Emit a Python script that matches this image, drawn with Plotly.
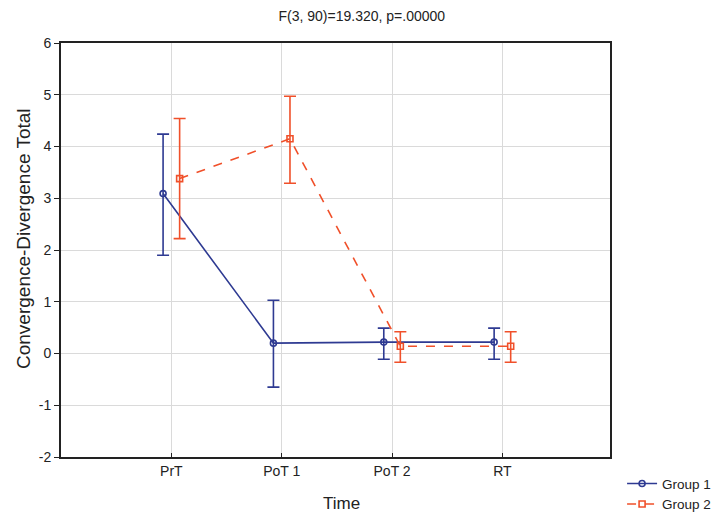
import plotly.graph_objects as go

categories = ["PrT", "PoT 1", "PoT 2", "RT"]
cat_pos = [0, 1, 2, 3]

y_ticks = [-2, -1, 0, 1, 2, 3, 4, 5, 6]
y_tick_labels = ["-2", "-1", "0", "1", "2", "3", "4", "5", "6"]

g1_mean = [3.09, 0.20, 0.22, 0.22]
g1_upper = [4.24, 1.03, 0.49, 0.49]
g1_lower = [1.90, -0.65, -0.11, -0.11]

g2_mean = [3.38, 4.15, 0.14, 0.14]
g2_upper = [4.54, 4.97, 0.42, 0.42]
g2_lower = [2.22, 3.29, -0.17, -0.17]

blue = "#2E3A92"
orange = "#F0502A"
font = "Liberation Sans, Arial, sans-serif"

fig = go.Figure()
fig.add_trace(go.Scatter(
    x=[p - 0.075 for p in cat_pos], y=g1_mean, name="Group 1",
    mode="lines+markers",
    line=dict(color=blue, width=1.6),
    marker=dict(symbol="circle-open", size=6, color=blue, line=dict(width=1.6)),
    error_y=dict(type="data", symmetric=False,
                 array=[u - m for u, m in zip(g1_upper, g1_mean)],
                 arrayminus=[m - l for m, l in zip(g1_mean, g1_lower)],
                 color=blue, thickness=1.6, width=6),
))
fig.add_trace(go.Scatter(
    x=[p + 0.075 for p in cat_pos], y=g2_mean, name="Group 2",
    mode="lines+markers",
    line=dict(color=orange, width=1.6, dash="dash"),
    marker=dict(symbol="square-open", size=6, color=orange, line=dict(width=1.6)),
    error_y=dict(type="data", symmetric=False,
                 array=[u - m for u, m in zip(g2_upper, g2_mean)],
                 arrayminus=[m - l for m, l in zip(g2_mean, g2_lower)],
                 color=orange, thickness=1.6, width=6),
))

fig.update_layout(
    width=715, height=515,
    margin=dict(l=61, r=105, t=43, b=58, autoexpand=False),
    paper_bgcolor="white", plot_bgcolor="white",
    font=dict(family=font, size=14, color="#222222"),
    title=dict(text="F(3, 90)=19.320, p=.00000", xref="container", x=0.506,
               xanchor="center", yref="container", y=1 - 16 / 515, yanchor="middle",
               font=dict(size=14, family=font, color="#222222")),
    showlegend=True,
    legend=dict(x=1.022, y=-0.027, xanchor="left", yanchor="top",
                font=dict(size=13.5, family=font, color="#222222"),
                bgcolor="rgba(0,0,0,0)", tracegroupgap=0, itemwidth=30),
    annotations=[
        dict(text="Time", xref="paper", yref="paper", x=(341 - 61) / 549,
             y=-(503 - 457) / 414, xanchor="center", yanchor="middle",
             showarrow=False, font=dict(size=17, family=font, color="#222222")),
        dict(text="Convergence-Divergence Total", xref="paper", yref="paper",
             x=(23 - 61) / 549, y=(457 - 239) / 414, xanchor="center",
             yanchor="middle", textangle=-90, showarrow=False,
             font=dict(size=19, family=font, color="#222222")),
    ],
)
fig.update_xaxes(
    range=[-1, 3.975], tickmode="array", tickvals=cat_pos, ticktext=categories,
    showgrid=True, gridcolor="#DADADA", gridwidth=1,
    showline=True, linecolor="#222222", linewidth=2, mirror=True,
    ticks="inside", ticklen=4, tickcolor="#222222",
    zeroline=False, automargin=False,
    tickfont=dict(size=14, family=font),
)
fig.update_yaxes(
    range=[-2, 6], tickmode="array", tickvals=y_ticks, ticktext=y_tick_labels,
    showgrid=True, gridcolor="#DADADA", gridwidth=1,
    showline=True, linecolor="#222222", linewidth=2, mirror=True,
    ticks="outside", ticklen=5, tickcolor="#222222",
    zeroline=False, automargin=False,
    tickfont=dict(size=14, family=font),
)

fig.write_html("out.html", config={"displayModeBar": False},
               post_script="document.body.style.margin='0';")
